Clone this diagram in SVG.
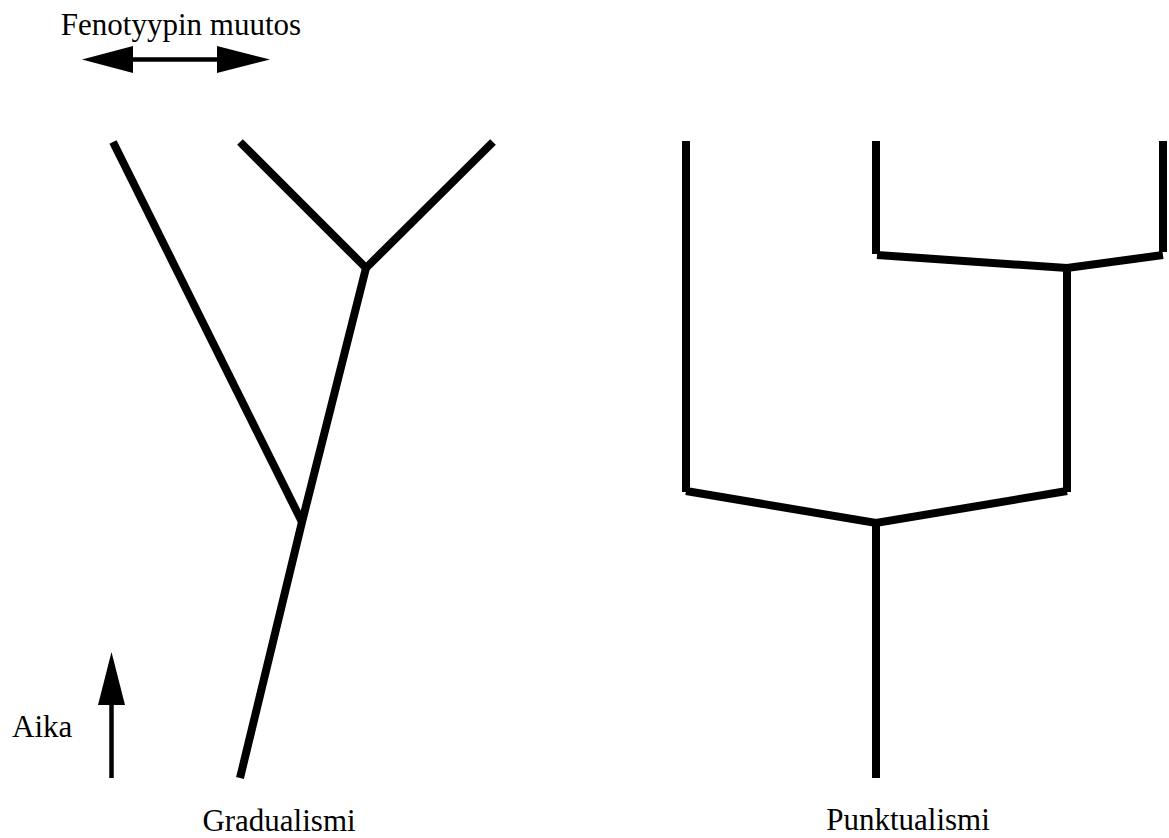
<svg xmlns="http://www.w3.org/2000/svg" width="1169" height="838" viewBox="0 0 1169 838">
<style>
.t{font-family:"Liberation Serif","Times New Roman",serif;font-size:31px;fill:#000}
.br{stroke:#000;stroke-width:8;fill:none;stroke-linecap:butt;stroke-linejoin:miter}
.ax{stroke:#000;stroke-width:4.5;fill:none}
</style>
<rect width="1169" height="838" fill="#fff"/>
<g id="legend">
<text class="t" x="181" y="35" text-anchor="middle">Fenotyypin muutos</text>
<line class="ax" x1="130" y1="59.5" x2="220" y2="59.5"/>
<polygon points="82,59.5 133,46 133,73"/>
<polygon points="270,59.5 217,46 217,73"/>
<text class="t" x="12" y="737">Aika</text>
<line class="ax" x1="111.5" y1="700" x2="111.5" y2="778" stroke-width="5"/>
<polygon points="111.5,652 98,705 125,705"/>
</g>
<g id="connectors">
<g id="gradualismi-tree">
<polyline class="br" points="240,778 302,522 366,268"/>
<line class="br" x1="302" y1="522" x2="113" y2="142"/>
<line class="br" x1="366" y1="268" x2="240" y2="142"/>
<line class="br" x1="366" y1="268" x2="493" y2="142"/>
</g>
<g id="punktualismi-tree">
<line class="br" x1="876" y1="778" x2="876" y2="522"/>
<line class="br" x1="686" y1="141" x2="686" y2="492"/>
<polyline class="br" points="686,491 876,523 1067,491"/>
<line class="br" x1="1067" y1="492" x2="1067" y2="268"/>
<polyline class="br" points="877,255 1067,268 1163,255"/>
<line class="br" x1="876" y1="141" x2="876" y2="254"/>
<line class="br" x1="1163" y1="141" x2="1163" y2="252"/>
</g>
</g>
<g id="labels">
<text class="t" x="279" y="831" text-anchor="middle">Gradualismi</text>
<text class="t" x="908" y="830" text-anchor="middle">Punktualismi</text>
</g>
</svg>
